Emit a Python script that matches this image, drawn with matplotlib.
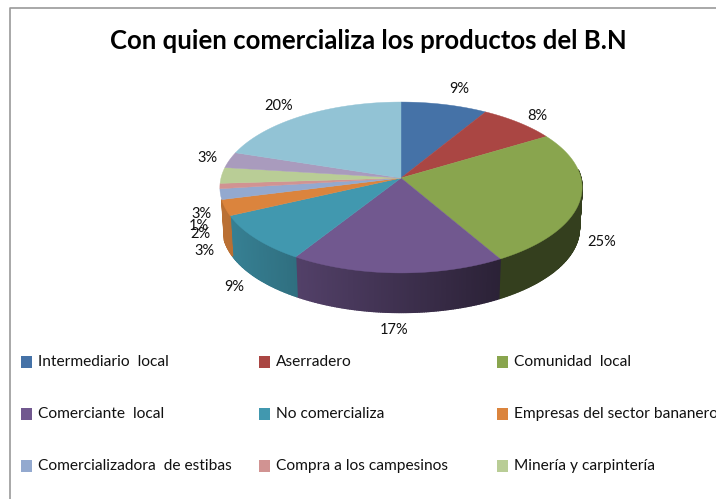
import numpy as np
import matplotlib
matplotlib.use('Agg')
import matplotlib.pyplot as plt
from matplotlib.patches import Polygon, Rectangle

plt.rcParams['font.family'] = ['Lato', 'DejaVu Sans']

title = 'Con quien comercializa los productos del B.N'
# shares (rim positions), labels show them rounded
shares = [8.6, 7.7, 25.4, 17.2, 9.1, 3.0, 2.0, 1.0, 3.0, 3.0, 20.0]
colors = ['#4572A7', '#AA4643', '#89A54E', '#71588F', '#4198AF', '#DB843D',
          '#93A9CF', '#D19392', '#B9CD96', '#A99BBD', '#92C3D5']
legend_names = ['Intermediario  local', 'Aserradero', 'Comunidad  local',
                'Comerciante  local', 'No comercializa', 'Empresas del sector bananero',
                'Comercializadora  de estibas', 'Compra a los campesinos', 'Minería y carpintería']

# label anchors in pixels, same order as shares
label_x = [459, 537, 602, 394, 234, 204, 200, 199, 201, 207, 279]
label_y = [89, 116, 242, 330, 287, 251, 234, 226, 214, 158, 106]

# pie geometry in pixels
cx, cy = 401, 178
rx, ry, persp = 180, 84.4, 0.111
depth = 41


def rim(theta, shift=0, scale=1.0):
    '''Pixel position of a rim point, theta clockwise from the top.'''
    w = 1 + persp * np.cos(theta)
    x = cx + scale * rx * np.sin(theta) / w
    y = cy + shift - scale * ry * np.cos(theta) / w
    return x, y


def shade(color, x):
    '''Side walls go darker towards the right.'''
    t = np.clip((x - 225) / (500 - 225), 0, 1)
    f = 0.85 - 0.47 * t
    return tuple(c * f for c in matplotlib.colors.to_rgb(color))


fig = plt.figure(figsize=(7.16, 4.99), dpi=100)
ax = fig.add_axes([0, 0, 1, 1])
ax.set_xlim(0, 716)
ax.set_ylim(499, 0)
ax.axis('off')

# chart frame
ax.plot([10, 10, 716], [499, 8, 8], color='#9a9a9a', lw=1.2)

edges = np.radians(np.cumsum([0] + shares) * 3.6)

# side walls first
for i, color in enumerate(colors):
    steps = max(int(2 * np.degrees(edges[i + 1] - edges[i])), 1)
    angles = np.linspace(edges[i], edges[i + 1], steps + 1)
    for a0, a1 in zip(angles[:-1], angles[1:]):
        mid = (a0 + a1) / 2
        # wall only shows on the near side, a bit less far round on the left
        limit = 0.1 if np.sin(mid) > 0 else -0.25
        if np.cos(mid) > limit:
            continue
        x0, y0 = rim(a0)
        x1, y1 = rim(a1)
        x2, y2 = rim(a1, depth, 0.985)
        x3, y3 = rim(a0, depth, 0.985)
        c = shade(color, (x0 + x1) / 2)
        ax.add_patch(Polygon([(x0, y0), (x1, y1), (x2, y2), (x3, y3)],
                             facecolor=c, edgecolor=c, lw=1.0))

# top face
for i, color in enumerate(colors):
    angles = np.linspace(edges[i], edges[i + 1], 60)
    xs, ys = rim(angles)
    points = [(cx, cy)] + list(zip(xs, ys))
    ax.add_patch(Polygon(points, facecolor=color, edgecolor=color, lw=0.3))

for x, y, s in zip(label_x, label_y, shares):
    ax.text(x, y, '%d%%' % round(s), ha='center', va='center', fontsize=10.5, color='#111111')

ax.text(368.5, 41, title, ha='center', va='center', fontsize=18.5, fontweight='bold', color='black')

# legend, 3 x 3
col_x = [21, 259, 497]
row_y = [362, 414, 466]
for i, name in enumerate(legend_names):
    x = col_x[i % 3]
    y = row_y[i // 3]
    ax.add_patch(Rectangle((x, y - 6), 11, 12, facecolor=colors[i], edgecolor='none'))
    ax.text(x + 16.5, y, name, ha='left', va='center', fontsize=11.2, color='#111111')

fig.savefig('out.png', dpi=100)
